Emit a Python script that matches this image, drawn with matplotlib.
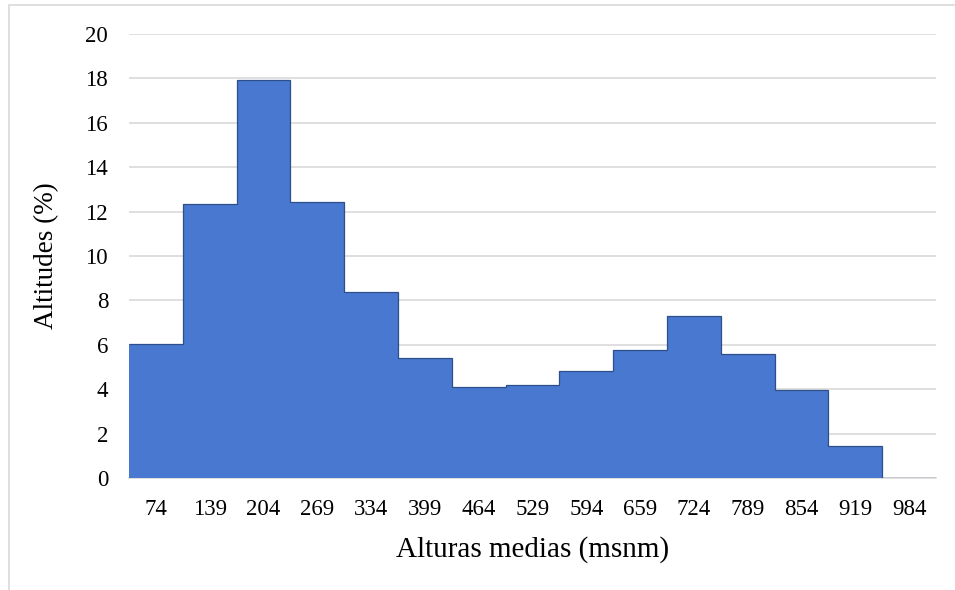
import matplotlib.pyplot as plt
import numpy as np
from matplotlib.patches import Rectangle

# Altitude classes (msnm) and share of area (%)
alturas = ["74", "139", "204", "269", "334", "399", "464", "529",
           "594", "659", "724", "789", "854", "919", "984"]
porcentaje = [6.04, 12.34, 17.93, 12.43, 8.38, 5.41, 4.08, 4.17,
              4.82, 5.77, 7.30, 5.59, 3.96, 1.46, 0.0]

plt.rcParams["font.family"] = ["Liberation Serif", "DejaVu Serif"]

fig = plt.figure(figsize=(9.55, 5.9), dpi=100)
ax = fig.add_axes([129 / 955, 1 - 478 / 590, (936 - 129) / 955, (478 - 34) / 590])

x = np.arange(len(alturas))
ax.bar(x, porcentaje, width=1.0, color="#4878CF", edgecolor="none", zorder=3)
# thin dark outline along the top of the bars (no inner dividers)
ax.stairs(porcentaje, np.arange(len(alturas) + 1) - 0.5, baseline=None,
          color="#2F4F8A", linewidth=0.9, zorder=4)

ax.set_xlim(-0.5, len(alturas) - 0.5)
ax.set_ylim(0, 20)
ax.set_yticks(range(0, 21, 2))
ax.set_xticks(x)
ax.set_xticklabels(alturas)
ax.tick_params(axis="both", length=0, labelsize=16.5, colors="black")
ax.tick_params(axis="y", pad=15)
ax.tick_params(axis="x", pad=15)

ax.grid(axis="y", color="#d9d9d9", linewidth=1.2, zorder=0)
for s in ["top", "right", "left"]:
    ax.spines[s].set_visible(False)
ax.spines["bottom"].set_color("#d9d9d9")
ax.spines["bottom"].set_linewidth(1.2)

ax.set_xlabel("Alturas medias (msnm)", fontsize=21, labelpad=12)
ax.set_ylabel("Altitudes (%)", fontsize=19.5, labelpad=19)

# light chart-area border
fig.patches.append(Rectangle((9 / 955, -0.05), 1.2, 1 - 5 / 590 + 0.05,
                             transform=fig.transFigure, fill=False,
                             edgecolor="#d9d9d9", linewidth=1.2))

fig.savefig("out.png", dpi=100)
